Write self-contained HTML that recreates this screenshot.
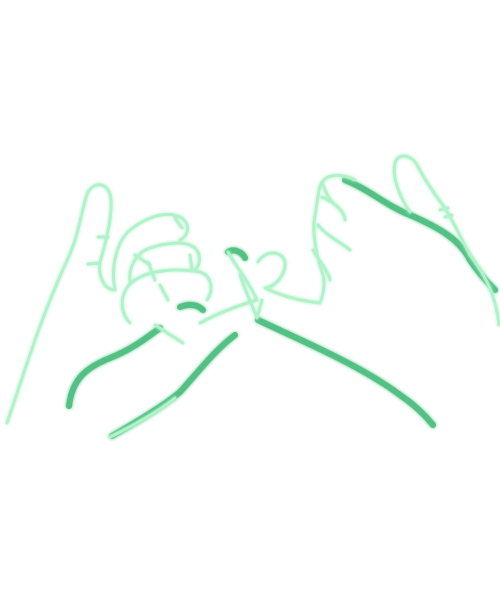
<!DOCTYPE html>
<html><head><meta charset="utf-8"><style>
html,body{margin:0;padding:0;background:#fff;width:500px;height:596px;overflow:hidden}
svg{display:block}
</style></head><body>
<svg width="500" height="596" viewBox="0 0 500 596">
<defs>
<filter id="glow" x="-20%" y="-20%" width="140%" height="140%">
<feGaussianBlur stdDeviation="1.6" result="b"/>
<feMerge><feMergeNode in="b"/><feMergeNode in="SourceGraphic"/></feMerge>
</filter>
</defs>
<g fill="none" stroke-linecap="round" stroke-linejoin="round">
<g stroke="#52c183" stroke-width="6" filter="url(#glow)">
<path d="M69,406 C72,380 85,368 110,358 C135,348 150,335 160,328"/>
<path d="M112,436 C140,420 165,405 180,392 C200,370 215,350 235,335"/>
<path d="M258,320 C300,340 360,365 400,395 C415,405 425,415 433,425"/>
<path d="M345,180 C370,190 385,205 410,215 C440,228 460,240 470,260 C480,275 490,285 495,290"/>
<path d="M228,252 C234,248 242,252 245,258"/>
<path d="M180,307 C190,303 198,305 203,310"/>
</g>
<g stroke="#b0f2c9" stroke-width="3" filter="url(#glow)">
<path d="M7,423 C25,370 40,320 65,265 C80,235 82,205 88,192 C95,180 110,183 111,200 C112,220 105,245 100,262 C98,278 105,290 115,290"/>
<path d="M98,237 L108,237 M88,264 L100,263"/>
<path d="M115,290 C110,265 118,240 130,230 C145,218 165,210 180,217 C190,222 190,235 180,240"/>
<path d="M130,282 C128,265 138,252 150,248 C165,243 185,240 195,248 C202,255 200,265 195,270"/>
<path d="M130,323 C118,310 120,290 135,280 C150,270 175,268 200,272 C212,276 214,290 207,300"/>
<path d="M135,255 L150,265 M148,262 L155,280 M175,218 L182,228 M160,285 L168,300 M190,255 L192,270"/>
<path d="M155,325 L183,343"/>
<path d="M200,323 C220,312 240,305 257,300 C248,280 235,265 228,252"/>
<path d="M258,262 C265,250 282,250 285,262 C286,275 275,287 265,288 C280,295 295,300 320,303"/>
<path d="M240,275 C245,290 252,305 257,318 L262,300"/>
<path d="M320,303 C325,290 325,280 322,272 C315,250 312,230 315,215 C318,200 318,188 322,182 C330,172 345,175 355,180"/>
<path d="M318,225 C325,235 345,245 350,250 M313,250 C318,260 328,270 330,280 M322,182 C325,192 330,200 335,205 M322,197 C340,205 345,215 345,220"/>
<path d="M410,212 C398,195 392,175 395,163 C398,152 412,155 417,165 C425,180 435,195 445,208 C455,225 462,240 470,255"/>
<path d="M440,210 L448,208 M445,217 L452,215"/>
<path d="M470,255 C485,275 496,295 499,325"/>
<path d="M110,437 C135,425 160,410 175,398"/>
</g>
</g>
</svg>
</body></html>
